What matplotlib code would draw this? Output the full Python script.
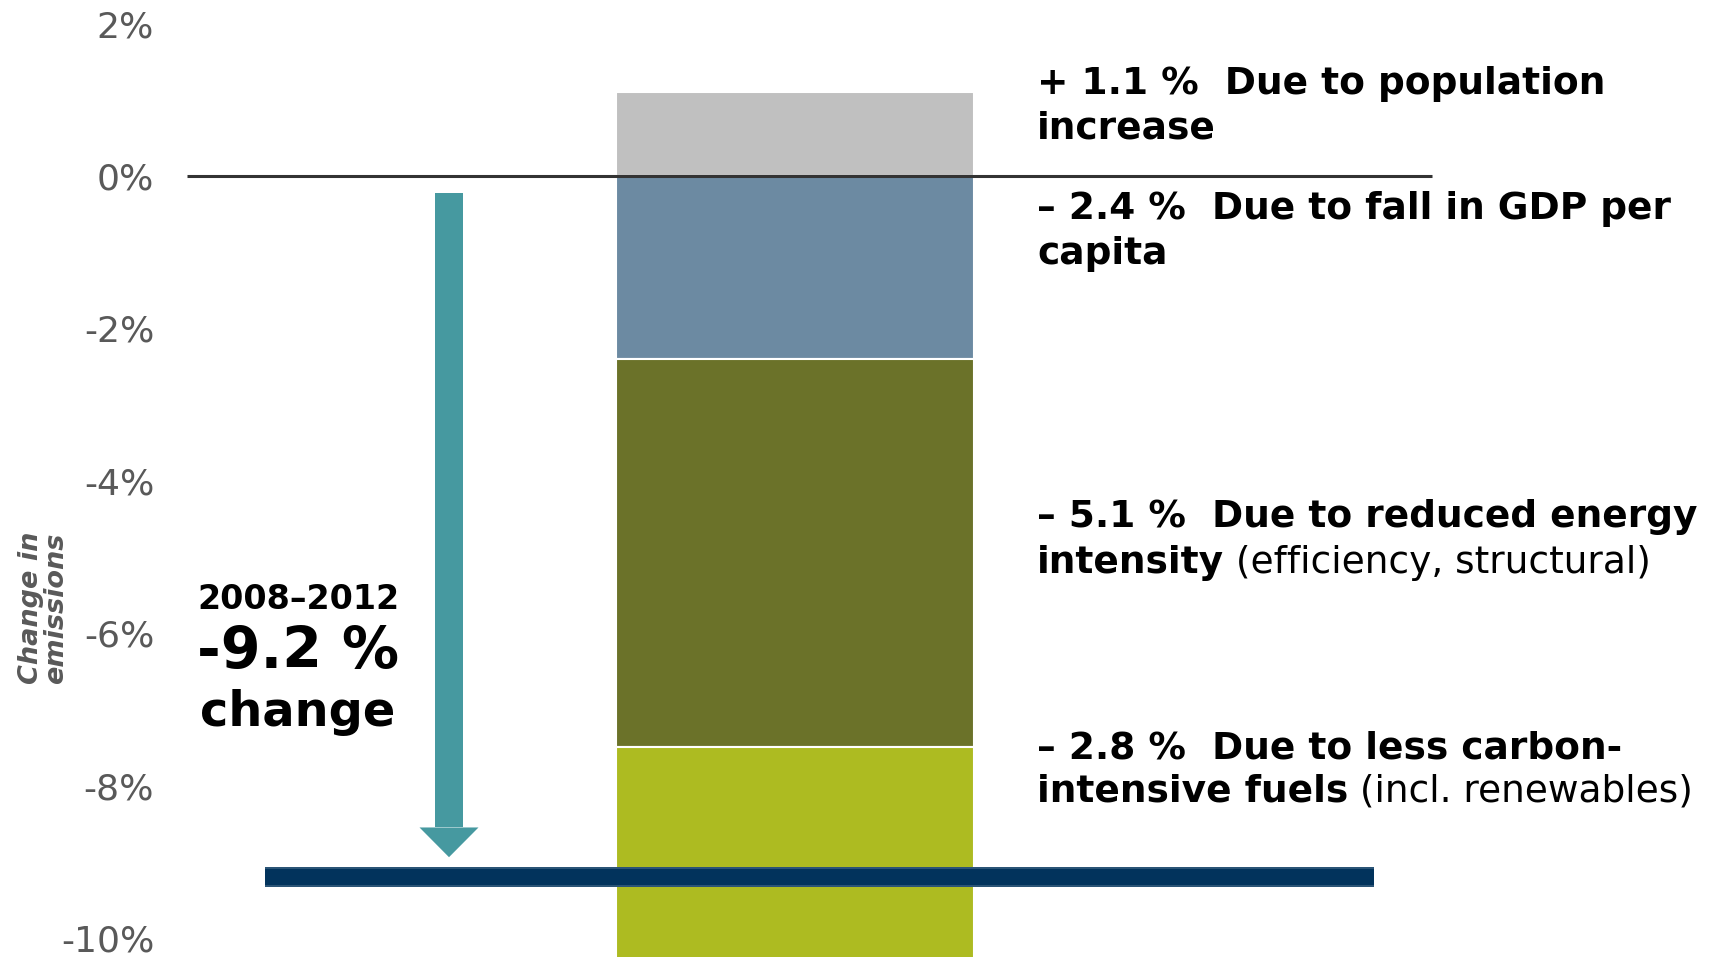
import matplotlib
matplotlib.use("Agg")
import matplotlib.pyplot as plt
from matplotlib.patches import Rectangle, Polygon

# ---------------- data ----------------
categories = ["Population", "GDP per capita", "Energy intensity", "Carbon intensity"]
values = [1.1, -2.4, -5.1, -2.8]
colors = ["#c0c0c0", "#6c8aa2", "#6b7229", "#adbb21"]
line1_text = ["Due to population", "Due to fall in GDP per", "Due to reduced energy", "Due to less carbon-"]
line2_bold = ["increase", "capita", "intensity", "intensive fuels"]
line2_normal = ["", "", " (efficiency, structural)", " (incl. renewables)"]
total_change = -9.2
period = "2008\u20132012"
yticks = [2, 0, -2, -4, -6, -8, -10]
ytick_labels = ["2%", "0%", "-2%", "-4%", "-6%", "-8%", "-10%"]

# ---------------- figure ----------------
W, H = 1723, 957
fig = plt.figure(figsize=(W / 100, H / 100), dpi=100)
left_px = 175
ax = fig.add_axes([left_px / W, 0, 1 - left_px / W, 1])
ax.set_xlim(left_px, W)
ax.set_ylim(-10.25, 2.31)
for s in ax.spines.values():
    s.set_visible(False)
ax.set_xticks([])
ax.set_yticks(yticks)
ax.set_yticklabels(ytick_labels)
ax.tick_params(axis="y", length=0, pad=15, labelsize=26, labelcolor="#595959")

# stacked bar
bar_x, bar_w = 795, 358
pos_bottom, neg_bottom = 0.0, 0.0
for v, c in zip(values, colors):
    if v >= 0:
        ax.bar(bar_x, v, bottom=pos_bottom, width=bar_w, color=c, edgecolor="white", linewidth=1.5, zorder=2)
        pos_bottom += v
    else:
        ax.bar(bar_x, v, bottom=neg_bottom, width=bar_w, color=c, edgecolor="white", linewidth=1.5, zorder=2)
        neg_bottom += v

# zero line
ax.hlines(0, 187, 1432, color="#333333", linewidth=2.2, zorder=3)

# total line
ax.hlines(total_change, 265, 1374, color="#2b5476", linewidth=14.4, zorder=3)
ax.hlines(total_change, 265, 1374, color="#02335c", linewidth=11.5, zorder=4)

# arrow (shaft + head)
ax_cx = 449
shaft_top, head_base, head_tip = -0.22, -8.55, total_change + 0.26
ax.add_patch(Rectangle((ax_cx - 14, head_base), 28, shaft_top - head_base, color="#4699a0", zorder=3, linewidth=0))
ax.add_patch(Polygon([(ax_cx - 29.5, head_base), (ax_cx + 29.5, head_base), (ax_cx, head_tip)],
                     closed=True, color="#4699a0", zorder=3, linewidth=0))

# left annotation
ax.text(298, -5.56, period, ha="center", va="center", fontsize=24, fontweight="bold", color="black")
ax.text(298, -6.25, f"{total_change:.1f} %", ha="center", va="center", fontsize=41, fontweight="bold", color="black")
ax.text(298, -7.04, "change", ha="center", va="center", fontsize=34.5, fontweight="bold", color="black")

# y-axis label
fig.text(44 / W, 1 - 608 / H, "Change in\nemissions", rotation=90, ha="center", va="center",
         fontsize=19.5, fontweight="bold", fontstyle="italic", color="#595959", linespacing=0.95)

# right labels
lx = 1037
line1_y = [1.21, -0.43, -4.48, -7.51]
line2_y = [0.62, -1.02, -5.08, -8.08]
fs = 27
for v, t1, b2, n2, y1, y2 in zip(values, line1_text, line2_bold, line2_normal, line1_y, line2_y):
    sign = "+" if v >= 0 else "\u2013"
    ax.text(lx, y1, f"{sign} {abs(v):.1f} %  {t1}", ha="left", va="center", fontsize=fs,
            fontweight="bold", color="black")
    tb = ax.text(lx, y2, b2, ha="left", va="center", fontsize=fs, fontweight="bold", color="black")
    if n2:
        ax.annotate(n2, xy=(1, 0), xycoords=tb, ha="left", va="bottom", fontsize=fs,
                    fontweight="normal", color="black")

fig.savefig("out.png", dpi=100)
